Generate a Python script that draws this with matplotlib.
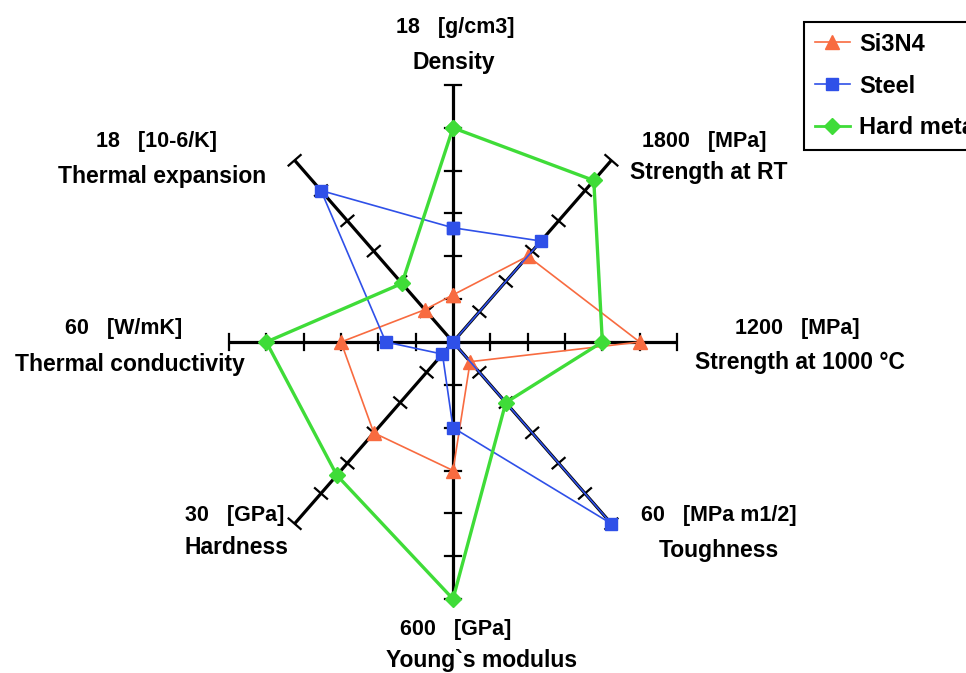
import numpy as np
import matplotlib
matplotlib.use("Agg")
import matplotlib.pyplot as plt
from matplotlib.lines import Line2D

plt.rcParams["font.family"] = ["Liberation Sans", "DejaVu Sans"]
plt.rcParams["font.weight"] = "bold"

# axes of the radar: name, unit label, max value, direction (deg)
axis_names = ["Density", "Strength at RT", "Strength at 1000 °C", "Toughness",
              "Young`s modulus", "Hardness", "Thermal conductivity", "Thermal expansion"]
axis_units = ["18   [g/cm3]", "1800   [MPa]", "1200   [MPa]", "60   [MPa m1/2]",
              "600   [GPa]", "30   [GPa]", "60   [W/mK]", "18   [10-6/K]"]
axis_max = [18, 1800, 1200, 60, 600, 30, 60, 18]
axis_angle = [90, 45, 0, -45, -90, -135, 180, 135]

si3n4 = [3.3, 850, 1000, 6.5, 300, 15, 30, 3.2]
steel = [8.0, 1000, 0, 60, 200, 2, 18, 15]
hard_metal = [15, 1600, 800, 20, 600, 22, 50, 5.8]

W, H = 966, 673
cx, cy = 453, 342          # centre in pixels (from top)
sx, sy = 224 / 6, 257 / 6  # pixels per division
ndiv = 6

fig = plt.figure(figsize=(W / 100, H / 100), dpi=100)
ax = fig.add_axes([0, 0, 1, 1])
ax.set_xlim(-cx / sx, (W - cx) / sx)
ax.set_ylim(-(H - cy) / sy, cy / sy)
ax.axis("off")

ang = np.deg2rad(axis_angle)

# black axes with tick marks
for a in ang:
    ux, uy = np.cos(a), np.sin(a)
    ax.plot([0, ndiv * ux], [0, ndiv * uy], color="black", lw=2.3, zorder=1,
            solid_capstyle="butt")
    dpx, dpy = ux * sx, uy * sy
    n = np.hypot(dpx, dpy)
    px, py = -dpy / n * 8 / sx, dpx / n * 8 / sy
    for k in range(1, ndiv + 1):
        bx, by = k * ux, k * uy
        ax.plot([bx - px, bx + px], [by - py, by + py], color="black", lw=1.6, zorder=1)


def to_xy(vals):
    r = np.array(vals) / np.array(axis_max) * ndiv
    x = r * np.cos(ang)
    y = r * np.sin(ang)
    return np.append(x, x[0]), np.append(y, y[0])


series = [
    ("Si3N4", si3n4, "#f86b40", "^", 10, 1.2),
    ("Steel", steel, "#2f50e8", "s", 9, 1.2),
    ("Hard metal", hard_metal, "#3fdc38", "D", 8, 2.4),
]
handles = []
for name, vals, col, mk, ms, lw in series:
    x, y = to_xy(vals)
    ax.plot(x, y, color=col, lw=lw, marker=mk, ms=ms, zorder=3)
    handles.append(Line2D([], [], color=col, lw=lw if lw < 2 else 2.0, marker=mk,
                          ms=ms, label=name))

# axis labels
unit_pos = [(455, 28), (704, 141), (797, 328), (719, 516),
            (456, 630), (235, 515), (124, 328), (156, 141)]
name_pos = [(454, 63), (709, 173), (800, 363), (719, 551),
            (482, 660), (236, 547), (130, 364), (162, 176)]
for u, n, (ux, uy), (nx, ny) in zip(axis_units, axis_names, unit_pos, name_pos):
    fig.text(ux / W, 1 - uy / H, u, ha="center", va="center", fontsize=15.5,
             fontweight="bold")
    fig.text(nx / W, 1 - ny / H, n, ha="center", va="center", fontsize=16.5,
             fontweight="bold")

# legend box runs past the right edge, as in the original
leg = ax.legend(handles=handles, loc="upper left",
                bbox_to_anchor=(804 / W, 1 - 22 / H), bbox_transform=fig.transFigure,
                fancybox=False, framealpha=1, edgecolor="black",
                prop={"size": 17, "weight": "bold"}, handlelength=1.5,
                handletextpad=0.4, borderpad=0.45, labelspacing=0.8,
                borderaxespad=0)
leg.get_frame().set_linewidth(1.5)

fig.savefig("out.png", dpi=100)
